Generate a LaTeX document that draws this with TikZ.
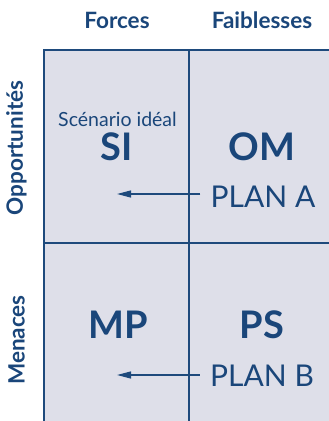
\documentclass[tikz,border=0pt]{standalone}
\usepackage{fontspec}
\setmainfont{Lato}
\usetikzlibrary{arrows.meta}
\definecolor{gridfill}{HTML}{DEDFE9}
\definecolor{gridline}{HTML}{1E4A7C}
\definecolor{txt}{HTML}{1A467A}
\tikzset{
  hdr/.style={text=txt, font=\fontsize{22.5}{22.5}\selectfont\bfseries, inner sep=0pt, anchor=base},
  side/.style={text=txt, font=\fontsize{22.5}{22.5}\selectfont\bfseries, inner sep=0pt, rotate=90},
  big/.style={text=txt, font=\fontsize{38}{38}\selectfont\bfseries, inner sep=0pt, anchor=base},
  plan/.style={text=txt, font=\fontsize{30}{30}\selectfont, inner sep=0pt, anchor=base},
  small/.style={text=txt, font=\fontsize{19.5}{19.5}\selectfont, inner sep=0pt, anchor=base},
  gl/.style={draw=gridline, line width=1.2pt},
  arr/.style={draw=gridline, line width=1.3pt, -{Triangle[length=14pt,width=7pt]}}
}
\begin{document}
\begin{tikzpicture}[x=1pt,y=-1pt]
\useasboundingbox (0,0) rectangle (329,421);
\fill[gridfill] (44,50) rectangle (329,421);
\draw[gl] (44,421) -- (44,50) -- (329,50);
\draw[gl] (189,50) -- (189,421);
\draw[gl] (44,243) -- (329,243);
\node[hdr] (forces) at (117,28) {Forces};
\node[hdr] (faib) at (262,28) {Faiblesses};
\node[side] (opp) at (16.5,148) {Opportunités};
\node[side] (men) at (16.5,340) {Menaces};
\node[small] (scen) at (117.5,126) {Scénario idéal};
\node[big] (si) at (117,160) {SI};
\node[big] (om) at (262,160) {OM};
\node[plan] (pa) at (263,207) {PLAN A};
\node[big] (mp) at (118,338) {MP};
\node[big] (ps) at (262,338) {PS};
\node[plan] (pb) at (262,386) {PLAN B};
\coordinate (ea) at (117,194);
\coordinate (eb) at (117,375);
\draw[arr] (pa.west |- ea) ++(-10,0) coordinate (sa) (sa) -- (ea);
\draw[arr] (pb.west |- eb) ++(-10,0) coordinate (sb) (sb) -- (eb);
\end{tikzpicture}
\end{document}
